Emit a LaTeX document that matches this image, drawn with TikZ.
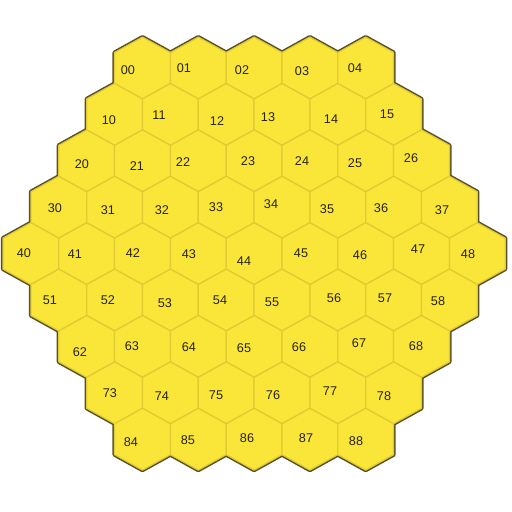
\documentclass[tikz,border=0pt]{standalone}
\usepackage{fontspec}
\setmainfont{Liberation Sans}
\definecolor{honey}{RGB}{250,230,56}
\definecolor{honeyedge}{RGB}{226,202,50}
\definecolor{rim}{RGB}{88,80,42}
\definecolor{digit}{RGB}{40,34,10}
\tikzset{
  hexrim/.style={draw=rim, line width=6pt, line join=round},
  hexbody/.style={fill=honey, draw=honeyedge, line width=1.8pt, line join=round},
  cell label/.style={font=\fontsize{18}{18}\selectfont, text=digit, inner sep=0pt}
}
% one pointy-top cell around (#1,#2)
\newcommand\hexcell[3]{%
  \path[#3] (#1,#2) ++(0,-30.9) -- ++(27.9,15.45) -- ++(0,30.9)
    -- ++(-27.9,15.45) -- ++(-27.9,-15.45) -- ++(0,-30.9) -- cycle;}
\begin{document}
\begin{tikzpicture}[x=0.05cm, y=-0.05cm]
\useasboundingbox (0,0) rectangle (512,512);
% Rahmen und Zellen
\foreach \pass in {hexrim,hexbody}{
  \foreach \r in {0,...,8}{
    \foreach \c in {0,...,8}{
      \pgfmathtruncatemacro\ok{abs(\c-\r)<=4}
      \ifnum\ok=1
        \pgfmathsetmacro\cx{142.5+55.8*\c-27.9*\r}
        \pgfmathsetmacro\cy{68+46.4*\r}
        \hexcell{\cx}{\cy}{\pass}
      \fi
    }
  }
}
% Nummern
\foreach \lab/\x/\y in {00/128/70, 01/184/68, 02/242/70, 03/302/71, 04/355/68,
  10/109/120, 11/159/115, 12/217/121, 13/268/117, 14/331/119, 15/387/114,
  20/82/164, 21/137/166, 22/183/162, 23/248/161, 24/302/161, 25/355/163, 26/411/158,
  30/55/208, 31/108/210, 32/162/210, 33/216/207, 34/271/204, 35/327/209, 36/381/208, 37/442/210,
  40/24/253, 41/75/254, 42/133/253, 43/189/254, 44/244/261, 45/301/253, 46/360/255, 47/418/249, 48/468/254,
  51/50/300, 52/108/300, 53/165/303, 54/220/300, 55/272/302, 56/334/298, 57/385/298, 58/438/301,
  62/80/352, 63/132/346, 64/189/347, 65/244/348, 66/299/347, 67/359/343, 68/416/346,
  73/110/393, 74/162/396, 75/216/395, 76/273/395, 77/330/391, 78/384/396,
  84/131/442, 85/188/440, 86/247/438, 87/306/438, 88/356/441}
  \node[cell label] (n\lab) at (\x,\y) {\lab};
\end{tikzpicture}
\end{document}
